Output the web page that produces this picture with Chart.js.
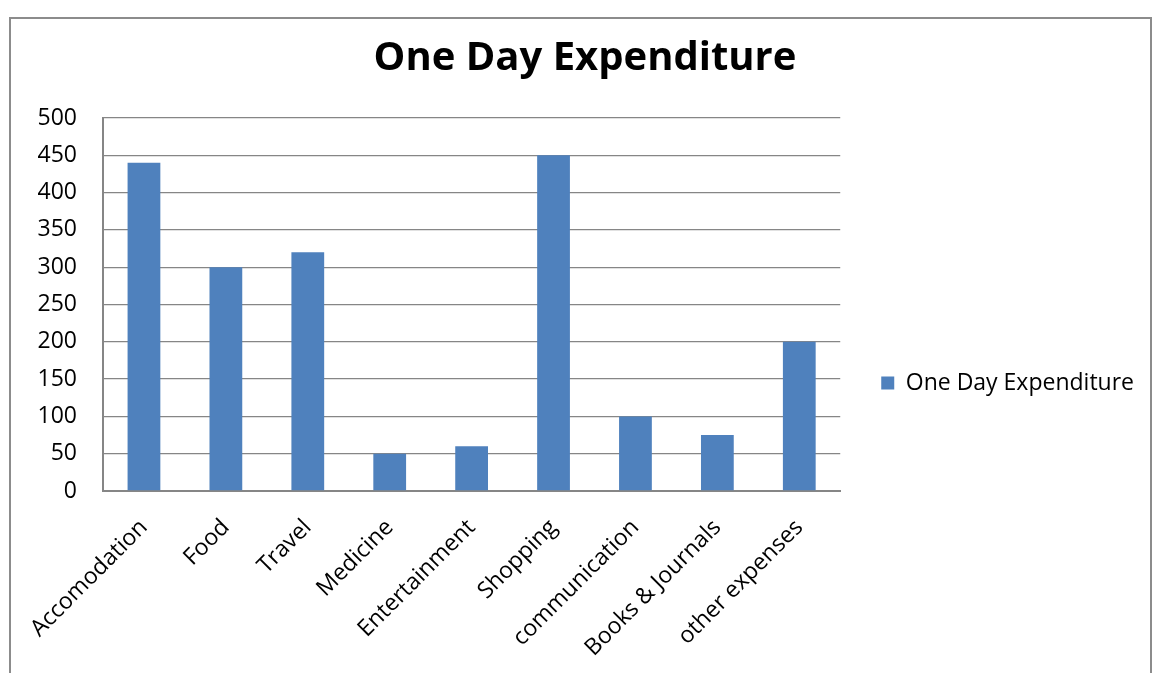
<!DOCTYPE html>
<html>
<head>
<meta charset="utf-8">
<script src="https://cdn.jsdelivr.net/npm/chart.js@4/dist/chart.umd.min.js"></script>
<style>
  html, body { margin: 0; padding: 0; background: #fff; width: 1152px; height: 673px; overflow: hidden; position: relative; }
  #frame { position: absolute; left: 9px; top: 17px; width: 1139px; height: 670px;
           border-left: 2px solid #8c8c8c; border-top: 2px solid #8c8c8c; border-right: 2px solid #8c8c8c; }
  #wrap { position: absolute; left: 20px; top: 19px; width: 1124px; height: 728px; }
</style>
</head>
<body>
<div id="frame"></div>
<div id="wrap"><canvas id="c"></canvas></div>
<script>
const categories = ["Accomodation", "Food", "Travel", "Medicine", "Entertainment", "Shopping", "communication", "Books & Journals", "other expenses"];
const seriesName = "One Day Expenditure";
const values = [440, 300, 320, 50, 60, 450, 100, 75, 200];
const titleText = "One Day Expenditure";
const yMin = 0, yMax = 500, yStep = 50;

const FONT = "'Open Sans', 'Noto Sans', sans-serif";
const gridColor = "#868686";

new Chart(document.getElementById('c'), {
  type: 'bar',
  data: {
    labels: categories,
    datasets: [{
      label: seriesName,
      data: values,
      backgroundColor: '#4f81bd',
      borderWidth: 0,
      categoryPercentage: 1.0,
      barPercentage: 0.4
    }]
  },
  options: {
    responsive: true,
    maintainAspectRatio: false,
    animation: false,
    layout: { padding: { left: 6, right: 0, top: 0, bottom: 0 } },
    plugins: {
      title: {
        display: true,
        text: titleText,
        color: '#000',
        font: { family: FONT, size: 40, weight: 'bold' },
        padding: { top: 16, bottom: 35 }
      },
      legend: {
        display: true,
        position: 'right',
        align: 'center',
        maxWidth: 340,
        labels: {
          color: '#000',
          font: { family: FONT, size: 23 },
          boxWidth: 13,
          boxHeight: 13,
          padding: 41
        }
      },
      tooltip: { enabled: false }
    },
    scales: {
      x: {
        grid: { display: false, drawTicks: false },
        border: { display: true, color: gridColor, width: 2 },
        ticks: {
          color: '#000',
          font: { family: FONT, size: 23 },
          minRotation: 45,
          maxRotation: 45,
          autoSkip: false,
          padding: 23
        },
        afterFit: (s) => { s.height = 256; s.paddingLeft = 0; s.paddingRight = 0; }
      },
      y: {
        min: yMin,
        max: yMax,
        grid: { color: gridColor, lineWidth: 1.3, drawTicks: false },
        border: { display: true, color: gridColor, width: 2 },
        ticks: {
          stepSize: yStep,
          color: '#000',
          font: { family: FONT, size: 23 },
          padding: 26
        },
        afterFit: (s) => { s.width = 77; }
      }
    }
  }
});
</script>
</body>
</html>
